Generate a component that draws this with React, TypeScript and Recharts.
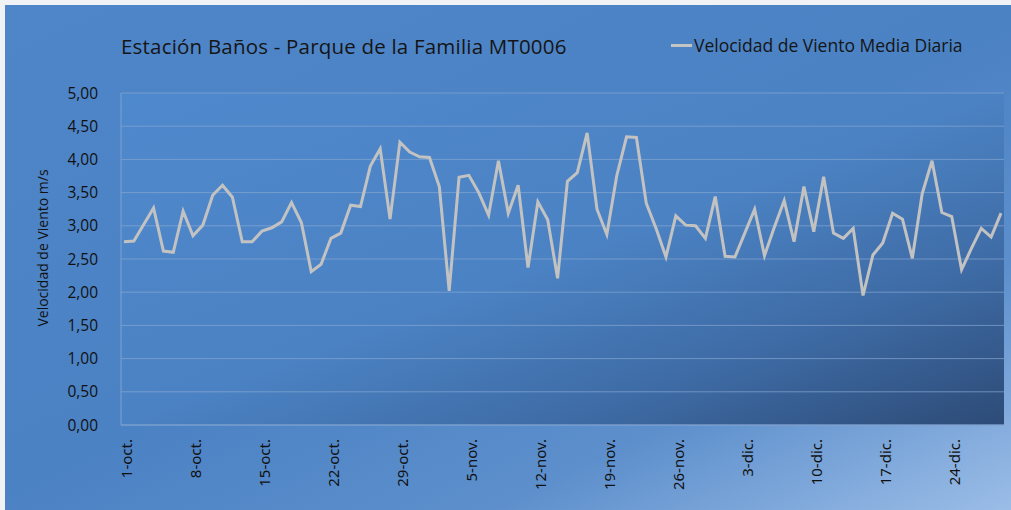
import { LineChart, Line, XAxis, YAxis, CartesianGrid } from 'recharts';

const MONTHS = ['oct.', 'nov.', 'dic.'];
const MONTH_DAYS = [31, 30, 29];

const velocidad = [
  2.76, 2.77, 3.02, 3.27, 2.62, 2.6, 3.22, 2.85, 3.01, 3.46,
  3.61, 3.43, 2.76, 2.76, 2.92, 2.97, 3.06, 3.35, 3.05, 2.31,
  2.42, 2.81, 2.89, 3.31, 3.29, 3.9, 4.16, 3.1, 4.26, 4.11,
  4.04, 4.03, 3.59, 2.02, 3.73, 3.76, 3.5, 3.16, 3.98, 3.19,
  3.61, 2.37, 3.36, 3.09, 2.21, 3.67, 3.8, 4.4, 3.25, 2.87,
  3.75, 4.34, 4.33, 3.34, 2.96, 2.53, 3.15, 3.01, 3.0, 2.81,
  3.44, 2.54, 2.53, 2.89, 3.25, 2.55, 2.98, 3.38, 2.76, 3.59,
  2.91, 3.74, 2.89, 2.81, 2.96, 1.95, 2.56, 2.74, 3.19, 3.1,
  2.51, 3.48, 3.98, 3.2, 3.14, 2.34, 2.66, 2.96, 2.83, 3.19,
];

const yTicks = [0, 0.5, 1, 1.5, 2, 2.5, 3, 3.5, 4, 4.5, 5];

const fechas: string[] = [];
MONTHS.forEach((m, mi) => {
  for (let d = 1; d <= MONTH_DAYS[mi]; d++) fechas.push(`${d}-${m}`);
});

const data = fechas.map((fecha, i) => ({ fecha, velocidad: velocidad[i] }));

const fmt = (v: number) => v.toFixed(2).replace('.', ',');

const XTick = ({ x, y, payload }: any) => (
  <text
    x={x}
    y={y}
    dy={8}
    transform={`rotate(-90 ${x} ${y})`}
    textAnchor="end"
    fontSize={15}
    fill="#111"
    fontFamily="'Noto Sans', sans-serif"
  >
    {payload.value}
  </text>
);

export default function App() {
  return (
    <div
      style={{
        position: 'absolute',
        left: 0,
        top: 0,
        width: 1011,
        height: 510,
        background: '#f0f2f5',
        overflow: 'hidden',
      }}
    >
      <div
        style={{
          position: 'absolute',
          left: 5,
          top: 5,
          width: 1006,
          height: 505,
          background: 'linear-gradient(155deg, #4f86c9 0%, #4b82c4 50%, #5d8fcc 75%, #9bbde7 100%)',
          fontFamily: "'Open Sans', sans-serif",
        }}
      >
        <div style={{ position: 'absolute', left: 116, top: 27, fontSize: 20.5, color: '#151515', letterSpacing: 0.2 }}>
          Estación Baños - Parque de la Familia MT0006
        </div>
        <div style={{ position: 'absolute', left: 666, top: 28, display: 'flex', alignItems: 'center' }}>
          <div style={{ width: 21, height: 3, background: '#c4c4c4', marginRight: 2 }} />
          <span style={{ fontSize: 17.5, color: '#151515' }}>Velocidad de Viento Media Diaria</span>
        </div>
        <LineChart width={1006} height={505} data={data} margin={{ top: 88, right: 7, bottom: 0, left: 0 }}>
          <defs>
            <linearGradient id="plotGrad" x1="0" y1="0" x2="1" y2="1">
              <stop offset="0%" stopColor="#4f89cd" />
              <stop offset="50%" stopColor="#4b82c3" />
              <stop offset="75%" stopColor="#3e6ba5" />
              <stop offset="100%" stopColor="#2d4b77" />
            </linearGradient>
          </defs>
          <CartesianGrid vertical={false} fill="url(#plotGrad)" stroke="#86a6d2" strokeOpacity={0.7} />
          <XAxis
            dataKey="fecha"
            interval={6}
            tick={<XTick />}
            tickLine={false}
            height={85}
            tickMargin={8}
            padding={{ left: 3, right: 3 }}
            axisLine={{ stroke: '#7fa1cf' }}
          />
          <YAxis
            domain={[0, 5]}
            ticks={yTicks}
            tickFormatter={fmt}
            width={116}
            tickLine={false}
            tickMargin={17}
            axisLine={{ stroke: '#7fa1cf' }}
            tick={{ fontSize: 15.5, fill: '#111', fontFamily: "'Open Sans', sans-serif" }}
            label={{
              content: () => (
                <text
                  x={43}
                  y={243}
                  transform="rotate(-90 43 243)"
                  textAnchor="middle"
                  fontSize={14}
                  fill="#111"
                  fontFamily="'Open Sans', sans-serif"
                >
                  Velocidad de Viento m/s
                </text>
              ),
            }}
          />
          <Line
            type="linear"
            dataKey="velocidad"
            stroke="#c2c2c2"
            strokeWidth={3}
            dot={false}
            isAnimationActive={false}
          />
        </LineChart>
      </div>
    </div>
  );
}
